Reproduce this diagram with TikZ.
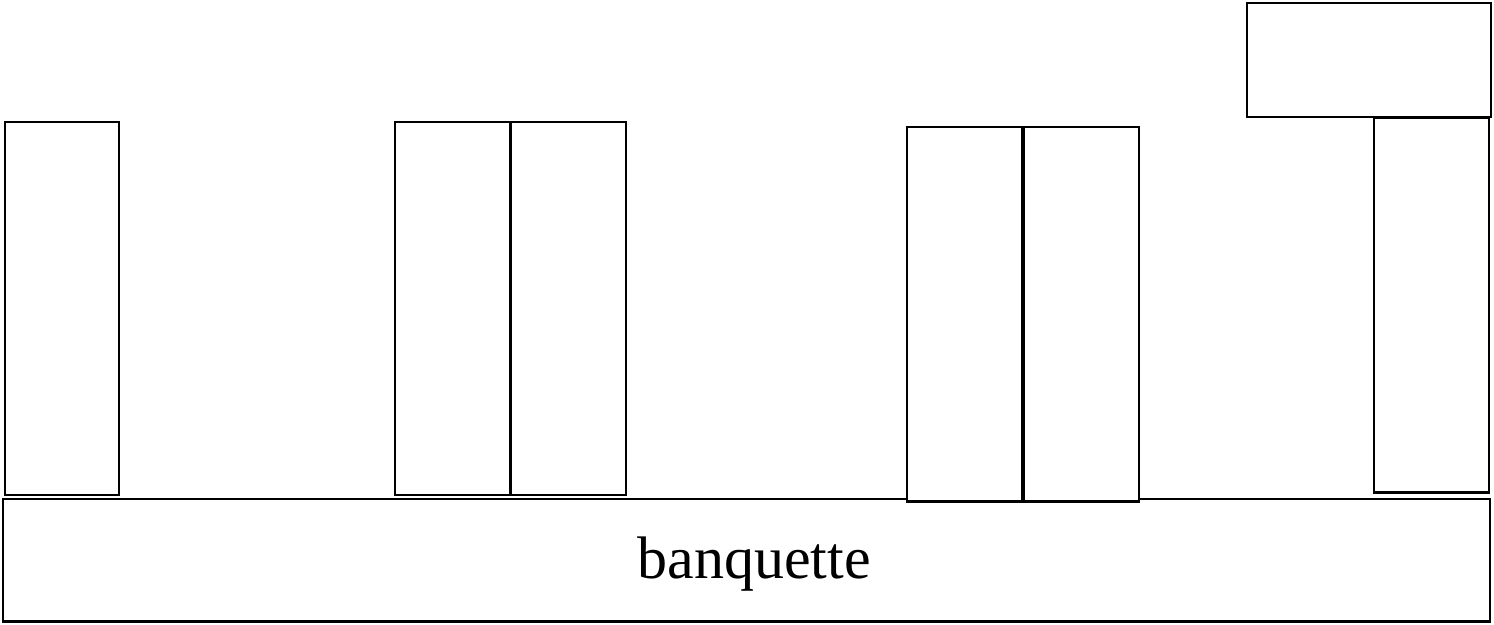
\documentclass[tikz,border=0pt]{standalone}
\usepackage{fontspec}
\setmainfont{Liberation Serif}
\begin{document}
\begin{tikzpicture}[x=1pt,y=-1pt,
  box/.style={draw=black,line width=2.3pt,fill=white},
  divider/.style={draw=black,line width=3.8pt}]
\useasboundingbox (0,0) rectangle (1494,624);
% banquette
\draw[box] (3,499) rectangle (1490,621.5);
\node[font=\fontsize{60}{60}\selectfont] (banq) at (754,564) {banquette};
% left post
\draw[box] (5,122) rectangle (119,495);
% pair 2
\draw[box] (395,122) rectangle (510.5,495);
\draw[box] (510.5,122) rectangle (626,495);
\draw[divider] (510.5,122) -- (510.5,495);
% pair 3
\draw[box] (907,127) rectangle (1023,501.5);
\draw[box] (1023,127) rectangle (1139,501.5);
\draw[divider] (1023,127) -- (1023,501.5);
% right post and top box
\draw[box] (1374,118) rectangle (1489,492.5);
\draw[box] (1247.3,3.3) rectangle (1490.7,117.3);
\end{tikzpicture}
\end{document}
